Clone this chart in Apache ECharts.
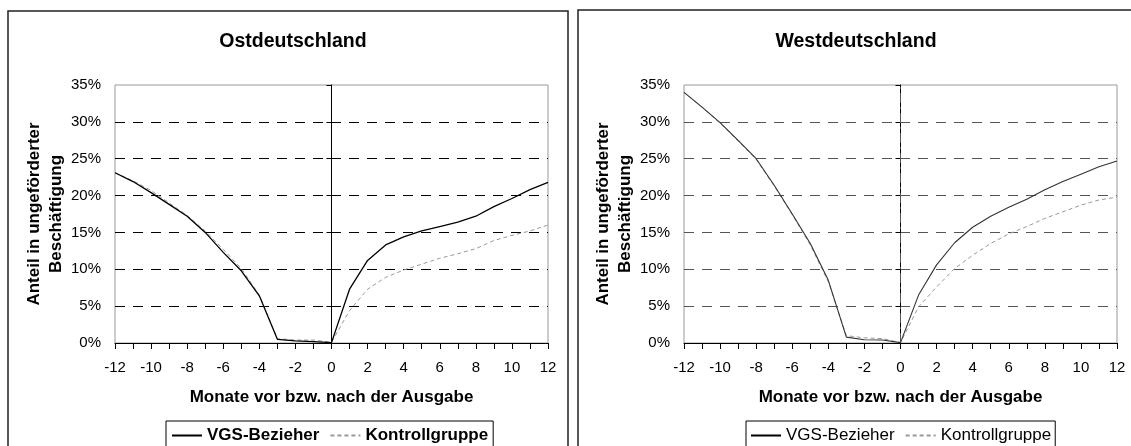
<!DOCTYPE html>
<html>
<head>
<meta charset="utf-8">
<script src="https://cdn.jsdelivr.net/npm/echarts@6/dist/echarts.min.js"></script>
<style>
  html, body { margin: 0; padding: 0; background: #fff; }
  #chart { width: 1131px; height: 446px; }
</style>
</head>
<body>
<div id="chart"></div>
<script>
// ---- Data ----
const months = [-12,-11,-10,-9,-8,-7,-6,-5,-4,-3,-2,-1,0,1,2,3,4,5,6,7,8,9,10,11,12];
const ostVGS = [23.1,21.9,20.4,18.8,17.2,15.0,12.3,9.8,6.4,0.5,0.3,0.2,0.05,7.3,11.2,13.3,14.4,15.2,15.8,16.4,17.2,18.5,19.6,20.8,21.8];
const ostKontroll = [23.1,22.0,20.7,19.0,17.3,15.2,12.7,10.1,6.5,0.6,0.4,0.4,0.1,4.4,7.3,8.9,9.9,10.7,11.5,12.1,12.8,13.9,14.6,15.2,16.0];
const westVGS = [34.0,32.0,29.9,27.5,25.0,21.4,17.5,13.5,8.5,0.8,0.45,0.4,0.05,6.5,10.6,13.6,15.7,17.2,18.4,19.5,20.8,21.9,22.9,23.9,24.7];
const westKontroll = [34.0,32.0,29.8,27.4,24.9,21.3,17.4,13.3,8.3,1.0,0.7,0.6,0.05,4.9,7.6,10.1,11.9,13.5,14.8,15.8,16.9,17.8,18.7,19.4,19.8];
const panelTitles = ['Ostdeutschland', 'Westdeutschland'];
const seriesNames = ['VGS-Bezieher', 'Kontrollgruppe'];
const xAxisName = 'Monate vor bzw. nach der Ausgabe';
const yAxisName = 'Anteil in ungeförderter\nBeschäftigung';
const yTicks = [0, 5, 10, 15, 20, 25, 30, 35];
const refMonth = 0;

const pairs = (vals) => months.map((m, i) => [m, vals[i]]);
const FONT = '"Liberation Sans", Arial, sans-serif';

function xAxis(gridIndex) {
  return {
    type: 'value', gridIndex, min: -12, max: 12, interval: 1,
    name: xAxisName, nameLocation: 'middle', nameGap: 46,
    nameTextStyle: { fontFamily: FONT, fontSize: 17, fontWeight: 'bold', color: '#000' },
    axisLine: { show: true, onZero: false, lineStyle: { color: '#000', width: 1 } },
    axisTick: { show: true, length: 6, inside: false, lineStyle: { color: '#000' } },
    axisLabel: {
      margin: 17, fontFamily: FONT, fontSize: 15, color: '#000',
      formatter: v => (v % 2 === 0 ? String(v) : '')
    },
    splitLine: { show: false }
  };
}
function yAxis(gridIndex, gridColor) {
  const colors = yTicks.map((t, i) => (i === yTicks.length - 1 ? 'rgba(0,0,0,0)' : gridColor));
  return {
    type: 'value', gridIndex, min: yTicks[0], max: yTicks[yTicks.length - 1], interval: 5,
    name: yAxisName, nameLocation: 'middle', nameGap: 45, nameRotate: 90,
    nameTextStyle: { fontFamily: FONT, fontSize: 17, fontWeight: 'bold', color: '#000', lineHeight: 22, align: 'center' },
    axisLine: { show: true, lineStyle: { color: '#000', width: 1 } },
    axisTick: { show: true, length: 5, inside: false, lineStyle: { color: '#000' } },
    axisLabel: { margin: 14, fontFamily: FONT, fontSize: 15, color: '#000', formatter: '{value}%' },
    splitLine: { show: true, lineStyle: { color: colors, type: [10, 8], width: 1 } }
  };
}
function refSeries(axisIndex, color) {
  return {
    name: 'ref' + axisIndex, type: 'line', xAxisIndex: axisIndex, yAxisIndex: axisIndex,
    data: [[refMonth, yTicks[0]], [refMonth, yTicks[yTicks.length - 1]]],
    symbol: 'none', silent: true, z: 1,
    lineStyle: { color, width: 1, type: [10, 4, 2, 4] }
  };
}
function legend(left, bold, pad) {
  return {
    data: seriesNames.map(n => ({ name: n, itemStyle: { opacity: 0 } })),
    left, top: 421, orient: 'horizontal',
    itemWidth: 30, itemHeight: 14, itemGap: 10, padding: pad,
    itemStyle: { opacity: 0 },
    borderColor: '#000', borderWidth: 1, borderRadius: 0,
    textStyle: { fontFamily: FONT, fontSize: 17, fontWeight: bold ? 'bold' : 'normal', color: '#000' }
  };
}

const option = {
  backgroundColor: '#fff',
  animation: false,
  graphic: [
    { type: 'rect', shape: { x: 8, y: 11, width: 560, height: 460 }, style: { fill: 'none', stroke: '#222', lineWidth: 1.5 } },
    { type: 'rect', shape: { x: 578, y: 10, width: 580, height: 460 }, style: { fill: 'none', stroke: '#222', lineWidth: 1.5 } }
  ],
  title: [
    { text: panelTitles[0], left: 288, top: 27, textAlign: 'center',
      textStyle: { fontFamily: FONT, fontSize: 19.5, fontWeight: 'bold', color: '#000' } },
    { text: panelTitles[1], left: 851, top: 27, textAlign: 'center',
      textStyle: { fontFamily: FONT, fontSize: 19.5, fontWeight: 'bold', color: '#000' } }
  ],
  grid: [
    { left: 115, right: 583, top: 85, bottom: 103, show: true, borderColor: '#999', borderWidth: 1, backgroundColor: 'transparent' },
    { left: 684, right: 14, top: 85, bottom: 103, show: true, borderColor: '#999', borderWidth: 1, backgroundColor: 'transparent' }
  ],
  xAxis: [xAxis(0), xAxis(1)],
  yAxis: [yAxis(0, '#000'), yAxis(1, '#555')],
  legend: [legend(166, true, [6, 5, 6, 5]), legend(746, false, [6, 4, 6, 4])],
  series: [
    refSeries(0, '#000'),
    refSeries(1, '#555'),
    { name: seriesNames[1], type: 'line', xAxisIndex: 0, yAxisIndex: 0, data: pairs(ostKontroll),
      symbol: 'none', lineStyle: { color: '#999', width: 1, type: [4, 3] }, itemStyle: { color: '#999' } },
    { name: seriesNames[0], type: 'line', xAxisIndex: 0, yAxisIndex: 0, data: pairs(ostVGS),
      symbol: 'none', lineStyle: { color: '#000', width: 1.3 }, itemStyle: { color: '#000' } },
    { name: seriesNames[1], type: 'line', xAxisIndex: 1, yAxisIndex: 1, data: pairs(westKontroll),
      symbol: 'none', lineStyle: { color: '#999', width: 1, type: [4, 3] }, itemStyle: { color: '#999' } },
    { name: seriesNames[0], type: 'line', xAxisIndex: 1, yAxisIndex: 1, data: pairs(westVGS),
      symbol: 'none', lineStyle: { color: '#333', width: 1.1 }, itemStyle: { color: '#333' } }
  ]
};

const chart = echarts.init(document.getElementById('chart'), null, { renderer: 'canvas' });
chart.setOption(option);
</script>
</body>
</html>
